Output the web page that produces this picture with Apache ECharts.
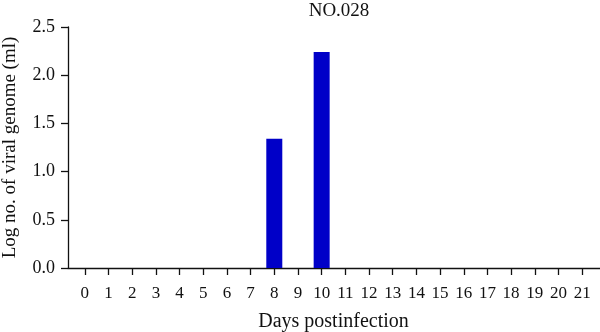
<!DOCTYPE html>
<html>
<head>
<meta charset="utf-8">
<script src="https://cdn.jsdelivr.net/npm/echarts@6/dist/echarts.min.js"></script>
<style>html,body{margin:0;padding:0;background:#fff}#c{width:600px;height:332px}</style>
</head>
<body>
<div id="c"></div>
<script>
const days = ['0','1','2','3','4','5','6','7','8','9','10','11','12','13','14','15','16','17','18','19','20','21'];
const genome = [0,0,0,0,0,0,0,0,1.34,0,2.24,0,0,0,0,0,0,0,0,0,0,0];
const yTicks = [0, 0.5, 1.0, 1.5, 2.0, 2.5];
const titleText = 'NO.028';
const xName = 'Days postinfection';
const yName = 'Log no. of viral genome (ml)';

const font = 'Liberation Serif';
const chart = echarts.init(document.getElementById('c'));
chart.setOption({
  animation: false,
  backgroundColor: '#fff',
  title: {
    text: titleText, left: 334, top: -3, textAlign: 'center',
    textStyle: {fontFamily: font, fontSize: 19, fontWeight: 'normal', color: '#111'}
  },
  grid: [
    {left: 73, right: 6, top: 27, bottom: 64, outerBoundsMode: 'none', containLabel: false},
    {left: 68, right: 0, top: 27, bottom: 64, outerBoundsMode: 'none', containLabel: false}
  ],
  xAxis: [
    {
      type: 'category', gridIndex: 0, data: days, boundaryGap: true,
      axisLine: {show: false},
      axisTick: {show: true, alignWithLabel: true, length: 7, lineStyle: {color: '#111', width: 1.3}},
      axisLabel: {fontFamily: font, fontSize: 17, color: '#111', margin: 17, interval: 0},
      name: xName, nameLocation: 'middle', nameGap: 44,
      nameTextStyle: {fontFamily: font, fontSize: 20, color: '#111'}
    },
    {
      type: 'value', gridIndex: 1, min: 0, max: 1,
      axisLine: {show: true, lineStyle: {color: '#111', width: 1.3}},
      axisTick: {show: false}, axisLabel: {show: false}, splitLine: {show: false}
    }
  ],
  yAxis: [
    {
      type: 'value', gridIndex: 0, min: yTicks[0], max: yTicks[yTicks.length-1], interval: 0.5,
      offset: 5,
      axisLine: {show: true, lineStyle: {color: '#111', width: 1.3}},
      axisTick: {show: true, length: 7, lineStyle: {color: '#111', width: 1.3}},
      axisLabel: {fontFamily: font, fontSize: 18, color: '#111', margin: 13, formatter: v => v.toFixed(1)},
      splitLine: {show: false},
      name: yName, nameLocation: 'middle', nameGap: 48,
      nameTextStyle: {fontFamily: font, fontSize: 19, color: '#111'}
    },
    {
      type: 'value', gridIndex: 1, show: false, min: 0, max: 1
    }
  ],
  series: [{
    type: 'bar', xAxisIndex: 0, yAxisIndex: 0, data: genome, barWidth: 16,
    itemStyle: {color: '#0000c8'}
  }]
});
</script>
</body>
</html>
